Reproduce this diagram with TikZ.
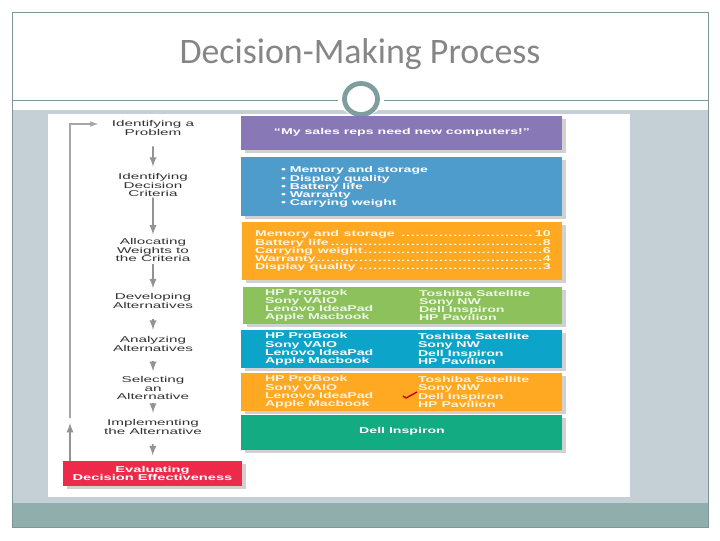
\documentclass[tikz,border=0pt]{standalone}
\usepackage{fontspec}
\setmainfont{Liberation Sans}
\newfontfamily\titlefont{Carlito}
\usetikzlibrary{shadows,shapes.geometric,positioning}
\definecolor{framecol}{HTML}{7F9697}
\definecolor{ringcol}{HTML}{7E9D9D}
\definecolor{panelcol}{HTML}{C5D0D6}
\definecolor{bandcol}{HTML}{8FAEAC}
\definecolor{purplebox}{HTML}{8878B5}
\definecolor{bluebox}{HTML}{4E9CCB}
\definecolor{orangebox}{HTML}{FFA922}
\definecolor{greenbox}{HTML}{8DC15B}
\definecolor{cyanbox}{HTML}{0CA5C9}
\definecolor{tealbox}{HTML}{12AB82}
\definecolor{redbox}{HTML}{EE2A4B}
\definecolor{labelcol}{HTML}{333333}
\newcommand{\dotrow}[2]{#1\leaders\hbox to 2pt{\hss.\hss}\hfill #2}
\newcommand{\tightlines}{\lineskiplimit=-10pt\relax}
\tikzset{
    panel/.style 2 args={minimum width=#1*0.025cm,minimum height=#2*0.025cm,inner sep=0,outer sep=0,
        drop shadow={shadow xshift=3pt,shadow yshift=-2pt,opacity=.18,fill=black}},
    steplabel/.style={transform shape,xscale=1.81,inner sep=0,outer sep=0,align=center,text=labelcol,
        font=\fontsize{6}{5.8}\selectfont\tightlines},
    boxtext/.style={transform shape,xscale=1.675,inner sep=0,outer sep=0,align=left,anchor=west,text=#1,
        font=\fontsize{6}{5.8}\selectfont\bfseries\tightlines},
    boxtext/.default=white,
    flowarrow/.style={-latex,draw=gray!85,line width=1.3pt}
}
\begin{document}
\begin{tikzpicture}[x=0.025cm,y=-0.025cm]
    \useasboundingbox (0,0) rectangle (720,540);
    % slide
    \fill[white] (0,0) rectangle (720,540);
    \fill[panelcol] (12,110) rectangle (708,503);
    \fill[bandcol] (12,503) rectangle (708,527);
    \draw[framecol,line width=0.6pt] (12,12) rectangle (708,527);
    \draw[framecol,line width=0.6pt] (12,100) -- (708,100);
    \fill[white] (361,99) ellipse (23 and 17);
    \fill[white] (48,114) rectangle (630,497);
    \draw[ringcol,line width=3.4pt] (361,99) ellipse (16.5 and 15.5);
    \node[font=\titlefont\fontsize{25.5}{28}\selectfont,text=gray!95] (title) at (360,54) {Decision-Making Process};
    % step labels
    \node[steplabel] (identify) at (153,128) {Identifying a\\Problem};
    \node[steplabel] (criteria) at (153,185) {Identifying\\Decision\\Criteria};
    \node[steplabel] (weights) at (153,250) {Allocating\\Weights to\\the Criteria};
    \node[steplabel] (develop) at (153,301) {Developing\\Alternatives};
    \node[steplabel] (analyze) at (153,344) {Analyzing\\Alternatives};
    \node[steplabel] (select) at (153,388) {Selecting\\an\\Alternative};
    \node[steplabel] (implement) at (153,427) {Implementing\\the Alternative};
    % coloured boxes
    \node[panel={321}{34},fill=purplebox] (salesbox) at (401.5,133) {};
    \node[panel={321}{59},fill=bluebox] (criteriabox) at (401.5,186.5) {};
    \node[panel={320}{58},fill=orangebox] (weightsbox) at (402,251) {};
    \node[panel={319}{37},fill=greenbox] (developbox) at (402.5,305.5) {};
    \node[panel={321}{38},fill=cyanbox] (analyzebox) at (401.5,349) {};
    \node[panel={321}{38},fill=orangebox] (selectbox) at (401.5,392) {};
    \node[panel={321}{35},fill=tealbox] (inspironbox) at (401.5,432.5) {};
    \node[panel={179}{25},fill=redbox] (evaluatebox) at (152.5,473.5) {};
    \node[steplabel,xscale=0.96,text=white,font=\fontsize{6}{5.8}\selectfont\bfseries\tightlines] (evaluate) at (evaluatebox) {Evaluating\\Decision Effectiveness};
    % box texts
    \node[boxtext,anchor=center] (salestext) at (402,132) {``My sales reps need new computers!''};
    \node[boxtext] (criterialist) at (281,187) {\textbullet\ Memory and storage\\\textbullet\ Display quality\\\textbullet\ Battery life\\\textbullet\ Warranty\\\textbullet\ Carrying weight};
    \node[boxtext=white!88!orangebox,text width=125.5pt] (weightlist) at (255,251) {\dotrow{Memory and storage }{10}\\\dotrow{Battery life}{8}\\\dotrow{Carrying weight}{6}\\\dotrow{Warranty}{4}\\\dotrow{Display quality}{3}};
    \node[boxtext=white!85!greenbox] (developleft) at (265,305.5) {HP ProBook\\Sony VAIO\\Lenovo IdeaPad\\Apple Macbook};
    \node[boxtext=white!85!greenbox] (developright) at (419,305.5) {Toshiba Satellite\\Sony NW\\Dell Inspiron\\HP Pavilion};
    \node[boxtext] (analyzeleft) at (265,349) {HP ProBook\\Sony VAIO\\Lenovo IdeaPad\\Apple Macbook};
    \node[boxtext] (analyzeright) at (418,349) {Toshiba Satellite\\Sony NW\\Dell Inspiron\\HP Pavilion};
    \node[boxtext=white!85!orangebox] (selectleft) at (265,392) {HP ProBook\\Sony VAIO\\Lenovo IdeaPad\\Apple Macbook};
    \node[boxtext=white!85!orangebox] (selectright) at (418,392) {Toshiba Satellite\\Sony NW\\Dell Inspiron\\HP Pavilion};
    \node[boxtext,anchor=center] (inspirontext) at (402,431) {Dell Inspiron};
    \draw[red!80!black,line width=1pt,line join=round] (403,396) -- (406,398) -- (417,392);
    % arrows between the steps
    \foreach \from/\to/\gapa/\gapb in {identify/criteria/8/5,criteria/weights/1/3,weights/develop/2/4,
        develop/analyze/8/5,analyze/select/7/4,select/implement/3/5,implement/evaluatebox/7/4}
        \draw[flowarrow,shorten <=\gapa pt,shorten >=\gapb pt] (\from) -- (\to);
    % way back to the start
    \coordinate (loopstart) at (70,461);
    \coordinate (looptip) at (70,423);
    \coordinate (loopfoot) at (70,418);
    \coordinate (loopcorner) at (70,124);
    \coordinate (loopend) at (98,124);
    \draw[flowarrow] (loopstart) -- (looptip);
    \draw[gray!70,line width=0.9pt,-latex] (loopfoot) -- (loopcorner) -- (loopend);
\end{tikzpicture}
\end{document}
